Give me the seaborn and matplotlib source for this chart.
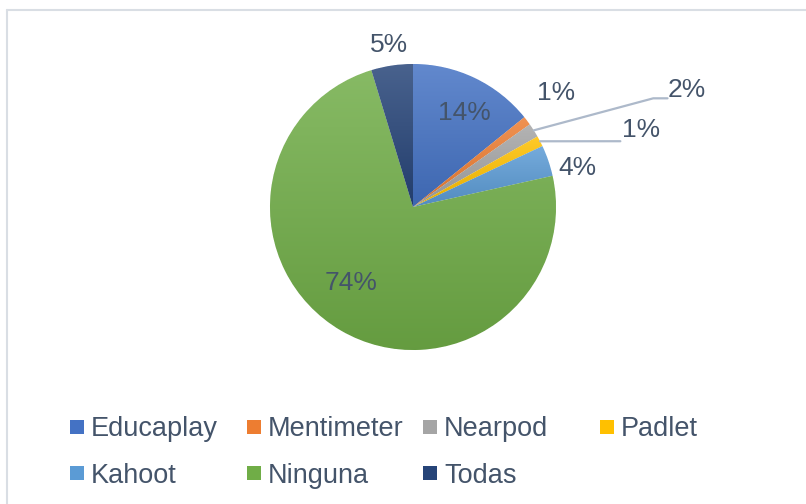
import numpy as np
import matplotlib
matplotlib.use("Agg")
import matplotlib.pyplot as plt
import matplotlib.colors as mcolors
from matplotlib.patches import Rectangle
from matplotlib.lines import Line2D
import seaborn as sns

# ---- data ----
categories = ["Educaplay", "Mentimeter", "Nearpod", "Padlet", "Kahoot", "Ninguna", "Todas"]
values = [14.2, 1.0, 1.6, 1.2, 3.5, 73.8, 4.7]
colors = ["#4472C4", "#ED7D31", "#A5A5A5", "#FFC000", "#5B9BD5", "#70AD47", "#264478"]

sns.set_theme(style="white")
plt.rcParams["font.family"] = ["Liberation Sans", "DejaVu Sans"]

TXT = "#44546A"
W, H = 806, 504
cx, cy, R = 413, 207, 143  # pie centre/radius in pixels (from top)

fig = plt.figure(figsize=(W / 100, H / 100), dpi=100)
ax = fig.add_axes([0, 0, 1, 1])

wedges, _ = ax.pie(values, colors=colors, startangle=90, counterclock=False,
                   radius=1, center=(0, 0),
                   wedgeprops=dict(linewidth=0.6, edgecolor="white"))

def shade(c, f):
    rgb = np.array(mcolors.to_rgb(c))
    if f >= 0:
        return rgb + (1 - rgb) * f
    return rgb * (1 + f)

# vertical gradient fill per wedge (lighter top, darker bottom)
for w, c in zip(wedges, colors):
    ext = w.get_path().get_extents()
    top = shade(c, 0.16)
    bot = shade(c, -0.10)
    t = np.linspace(0, 1, 256)[:, None]
    img = (bot[None, :] * (1 - t) + top[None, :] * t)[:, None, :]
    im = ax.imshow(img, extent=[ext.x0, ext.x1, ext.y0, ext.y1], origin="lower",
                   aspect="auto", zorder=w.get_zorder() + 0.1, interpolation="bilinear")
    im.set_clip_path(w)

ax.set_xlim(-cx / R, (W - cx) / R)
ax.set_ylim(-(H - cy) / R, cy / R)
ax.axis("off")

# ---- data labels ----
pct_labels = [f"{round(v)}%" for v in values]
total = sum(values)
cum = np.cumsum([0] + values)
mid_ang = [np.deg2rad(90 - 360 * (cum[i] + values[i] / 2) / total) for i in range(len(values))]

label_pos = {
    0: ((0.36, 0.66), "center"),
    1: ((1.00, 0.80), "center"),
    2: ((1.78, 0.82), "left"),
    3: ((1.46, 0.54), "left"),
    4: ((1.15, 0.27), "center"),
    5: ((-0.43, -0.53), "center"),
    6: ((-0.17, 1.13), "center"),
}
for i, ((x, y), ha) in label_pos.items():
    ax.text(x, y, pct_labels[i], ha=ha, va="center", fontsize=19, color=TXT, zorder=10)

# leader lines
lc = "#ADB9CA"
a = mid_ang[2]
ax.plot([np.cos(a), 1.68, 1.78], [np.sin(a), 0.76, 0.76], color=lc, lw=1.6, zorder=9)
a = mid_ang[3]
ax.plot([np.cos(a), 1.45], [np.sin(a), 0.46], color=lc, lw=1.6, zorder=9)

# ---- legend (equal-width columns, like Excel) ----
col_x0, col_pitch = 70, 176.5
row_y = [426.5, 473]
msz = 14
for i, (name, c) in enumerate(zip(categories, colors)):
    r, col = divmod(i, 4)
    x = col_x0 + col * col_pitch
    y = row_y[r]
    fig.patches.append(Rectangle(((x) / W, 1 - (y + msz / 2) / H), msz / W, msz / H,
                                 transform=fig.transFigure, facecolor=c, edgecolor="none"))
    fig.text((x + msz + 7) / W, 1 - y / H, name, ha="left", va="center_baseline",
             fontsize=19.5, color=TXT)

# chart border (top and left visible)
bc = "#D9DEE4"
fig.add_artist(Line2D([7.5 / W, 7.5 / W], [0, 1 - 9.5 / H], transform=fig.transFigure, color=bc, lw=1.5))
fig.add_artist(Line2D([7.5 / W, 1], [1 - 9.5 / H, 1 - 9.5 / H], transform=fig.transFigure, color=bc, lw=1.5))

fig.savefig("out.png", dpi=100, facecolor="white")
